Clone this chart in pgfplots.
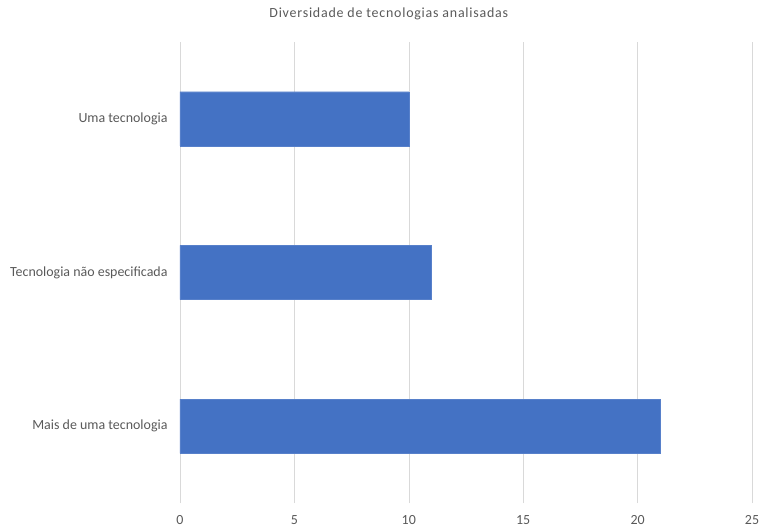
\documentclass[border=0pt]{standalone}
\usepackage{pgfplots}
\pgfplotsset{compat=1.18}
\usepackage{fontspec}
\setmainfont{Carlito}
\newfontfamily\titlefont[LetterSpace=5.5]{Carlito}
\definecolor{barblue}{HTML}{4472C4}
\definecolor{txtgray}{HTML}{595959}
\definecolor{gridgray}{HTML}{D9D9D9}
\begin{document}
\begin{tikzpicture}
\path[use as bounding box] (-180bp,-25bp) rectangle (583bp,503bp);
\begin{axis}[
  at={(0,0)}, anchor=south west,
  scale only axis,
  width=572bp, height=461bp,
  xbar,
  xmin=0, xmax=25,
  ymin=-0.5, ymax=2.5,
  bar width=0.353,
  xtick={0,5,10,15,20,25},
  ytick={0,1,2},
  yticklabels={Mais de uma tecnologia,Tecnologia não especificada,Uma tecnologia},
  axis line style={draw=none},
  major tick length=0pt,
  xmajorgrids,
  grid style={gridgray, line width=0.6pt},
  tick label style={font=\fontsize{14}{16}\selectfont, text=txtgray},
  /pgf/number format/assume math mode=true,
  yticklabel style={anchor=east, xshift=-9bp},
  xticklabel style={anchor=center, yshift=-17bp},
  title={Diversidade de tecnologias analisadas},
  title style={at={(axis description cs:0.365,1.048)}, anchor=center, font=\titlefont\fontsize{14}{16}\selectfont, text=txtgray},
]
\addplot[fill=barblue, draw=barblue!90!white] coordinates {(21,0) (11,1) (10,2)};
\end{axis}
\end{tikzpicture}
\end{document}
